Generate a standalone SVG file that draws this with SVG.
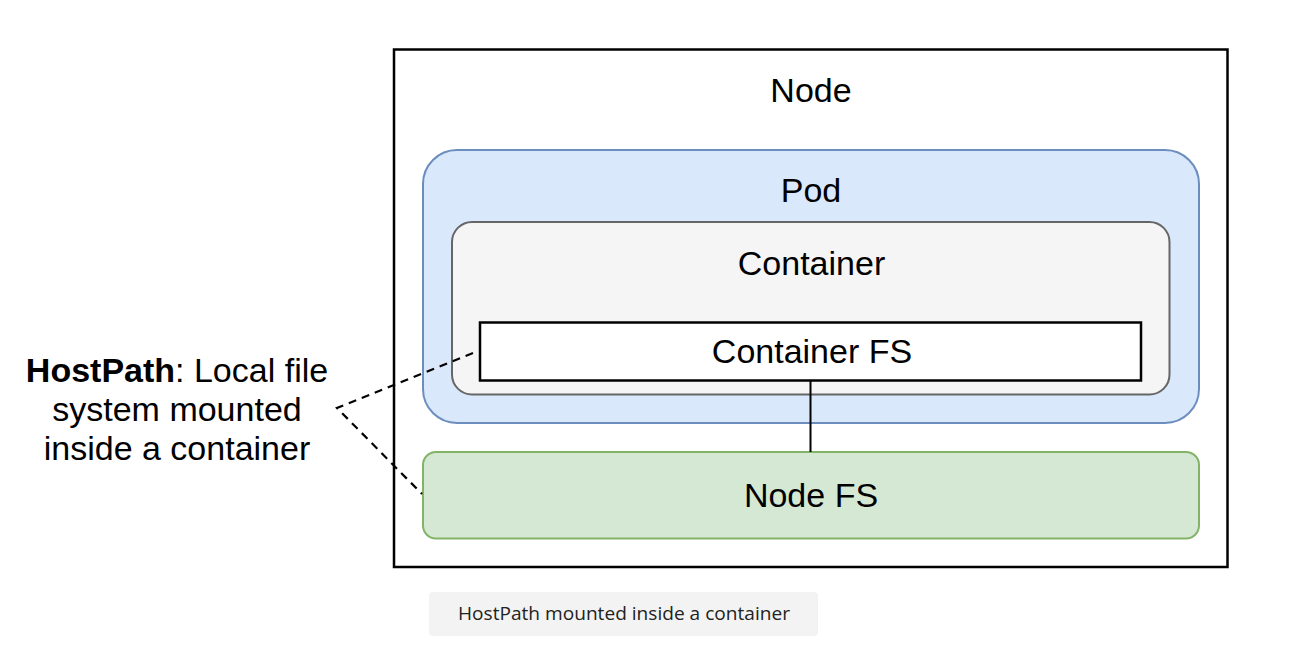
<svg xmlns="http://www.w3.org/2000/svg" width="1289" height="663" viewBox="0 0 1289 663">
<style>
.lbl{font-family:"Liberation Sans",Arial,Helvetica,sans-serif;font-size:34px;fill:#000;text-anchor:middle}
.b{font-weight:bold}
.cap{font-family:"Open Sans",Lato,sans-serif;font-size:18px;fill:#222;text-anchor:middle}
</style>
<rect width="1289" height="663" fill="#fff"/>
<g id="node">
<rect x="394" y="49.5" width="833.5" height="517.5" fill="#fff" stroke="#000" stroke-width="2.5"/>
<text class="lbl" x="811" y="102">Node</text>
</g>
<g id="pod">
<rect x="423" y="150" width="776" height="273" rx="34" fill="#dae8fc" stroke="#6c8ebf" stroke-width="2"/>
<text class="lbl" x="811" y="202">Pod</text>
</g>
<g id="container">
<rect x="452" y="222" width="717.5" height="172.5" rx="20" fill="#f5f5f5" stroke="#666" stroke-width="2"/>
<text class="lbl" x="811.5" y="275">Container</text>
</g>
<g id="container-fs">
<rect x="480" y="322.5" width="661" height="58" fill="#fff" stroke="#000" stroke-width="2.5"/>
<text class="lbl" x="812" y="363">Container FS</text>
</g>
<g id="node-fs">
<rect x="423" y="452" width="776" height="86.5" rx="13" fill="#d5e8d4" stroke="#82b366" stroke-width="2"/>
<text class="lbl" x="811" y="507">Node FS</text>
</g>
<g id="hostpath-label">
<text class="lbl" x="177" y="382"><tspan class="b">HostPath</tspan>: Local file</text>
<text class="lbl" x="177" y="421">system mounted</text>
<text class="lbl" x="177" y="460">inside a container</text>
</g>
<g id="connectors" fill="none" stroke="#000" stroke-width="2">
<line x1="810.5" y1="381" x2="810.5" y2="452"/>
<polyline points="473,353 337,408 422,494" stroke-dasharray="8,6" stroke-width="2.2"/>
</g>
<g id="caption">
<rect x="429" y="592" width="389" height="44" rx="4" fill="#f3f3f3"/>
<text class="cap" x="624" y="620" textLength="332" lengthAdjust="spacingAndGlyphs">HostPath mounted inside a container</text>
</g>
</svg>
